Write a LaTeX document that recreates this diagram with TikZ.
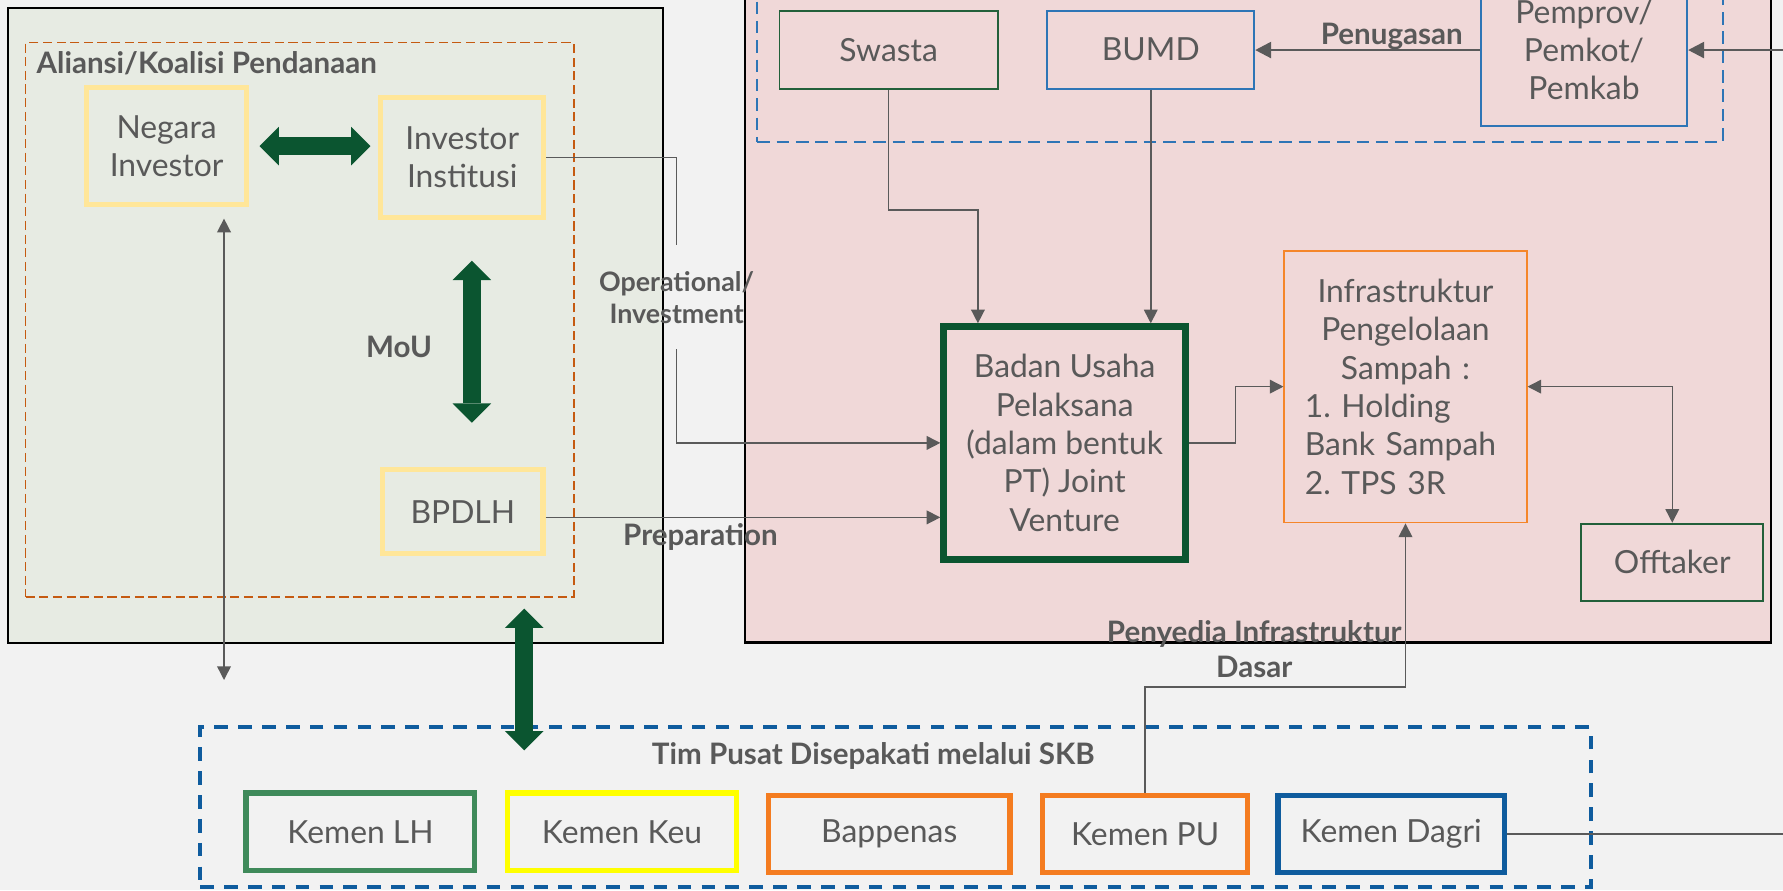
\documentclass[tikz,border=0pt]{standalone}
\usepackage{fontspec}
\setmainfont{Lato}
\usetikzlibrary{arrows.meta,calc}

\definecolor{latar}{HTML}{F2F2F2}
\definecolor{hijaumuda}{HTML}{E7EBE3}
\definecolor{merahmuda}{HTML}{F0D8D8}
\definecolor{teks}{HTML}{595959}
\definecolor{garis}{HTML}{5A5A5A}
\definecolor{kuningmuda}{HTML}{FFE699}
\definecolor{hijautua}{HTML}{0B5530}
\definecolor{hijau}{HTML}{22603A}
\definecolor{hijaulh}{HTML}{3F8A5A}
\definecolor{kuning}{HTML}{FFFF00}
\definecolor{oranye}{HTML}{F47C20}
\definecolor{oranyemuda}{HTML}{F5862A}
\definecolor{cokelat}{HTML}{C55A11}
\definecolor{biru}{HTML}{2E75B6}
\definecolor{birutua}{HTML}{0F5C9E}

\begin{document}
\begin{tikzpicture}[x=1pt, y=-1pt,
    panah/.tip={Triangle[width=12pt,length=12pt]},
    panahbesar/.tip={Triangle[width=14pt,length=14pt]},
    blokujung/.tip={Triangle[width=34pt,length=17pt,line width=0pt]},
    box/.style={rectangle, draw, align=center, text=teks, inner sep=0pt,
                font={\fontsize{28}{33.7}\selectfont\frenchspacing}},
    investor/.style={box, draw=kuningmuda, line width=4.5pt, minimum width=141pt},
    kemen/.style={box, line width=4.8pt, minimum height=68pt},
    wadah/.style={rectangle, inner sep=0pt},
    lbl/.style={text=teks, align=center, inner sep=0pt,
                font={\fontsize{26}{30}\selectfont\bfseries}},
    conn/.style={draw=garis, line width=1.3pt, -panah},
    dua/.style={draw=garis, line width=1.3pt, panah-panah},
    connthick/.style={draw=garis, line width=2.2pt, -panahbesar},
    blok/.style={draw=hijautua, line width=16pt, blokujung-blokujung}
]

\useasboundingbox (0,0) rectangle (1568,782.7);
\clip (0,0) rectangle (1568,782.7);
\fill[latar] (0,0) rectangle (1568,782.7);

\node[wadah, draw=black, fill=merahmuda, line width=2pt, minimum width=902.5pt, minimum height=605pt] (pelaksana) at (1106.25,262.5) {};
\node[wadah, draw=biru, dash pattern=on 11pt off 6pt, line width=2pt, minimum width=849pt, minimum height=164.6pt] (daerah) at (1090.5,42.3) {};
\node[wadah, draw=black, fill=hijaumuda, line width=1.8pt, minimum width=576pt, minimum height=558.5pt] (pendanaan) at (295,286) {};
\node[wadah, draw=cokelat, dash pattern=on 8pt off 4pt, line width=1.5pt, minimum width=482pt, minimum height=487.2pt] (koalisi) at (263.5,281.1) {};
\node[wadah, draw=birutua, dash pattern=on 12pt off 9pt, line width=3.5pt, minimum width=1223pt, minimum height=140.4pt] (timpusat) at (787.5,709.8) {};

\node[lbl, anchor=west] (judulkoalisi) at (32,56) {Aliansi/Koalisi Pendanaan};
\node[lbl] (judultim) at (768,665) {Tim Pusat Disepakati melalui SKB};

\node[investor, minimum height=103pt] (negara) at (146.5,128.5) {Negara\\Investor};
\node[investor, minimum width=143pt, minimum height=105pt] (institusi) at (406.5,138.5) {Investor\\Institusi};
\node[investor, minimum height=74pt] (bpdlh) at (407,450) {BPDLH};

\node[box, draw=hijau, line width=1.6pt, minimum width=192pt, minimum height=68.6pt] (swasta) at (781.5,43.7) {Swasta};
\node[box, draw=biru, line width=1.6pt, minimum width=182pt, minimum height=68.6pt] (bumd) at (1012,43.7) {BUMD};
\node[box, draw=biru, line width=1.6pt, minimum width=181.5pt, minimum height=134pt] (pemprov) at (1393,44) {Pemprov/\\Pemkot/\\Pemkab};
\node[box, draw=hijautua, line width=6pt, minimum width=212.7pt, minimum height=204.4pt] (bu) at (936.3,389.5) {Badan Usaha\\Pelaksana\\(dalam bentuk\\PT) Joint\\Venture};
\node[box, draw=oranyemuda, line width=1.6pt, minimum width=213pt, minimum height=239pt, text width=177pt, align=left] (infra) at (1236,340)
  {\centering Infrastruktur\\Pengelolaan\\Sampah :\par\raggedright 1. Holding\\Bank Sampah\\2. TPS 3R};
\node[box, draw=hijau, line width=1.6pt, minimum width=160pt, minimum height=68pt] (offtaker) at (1470.6,494.5) {Offtaker};

\foreach \nama/\x/\y/\w/\warna/\isi in {kemenlh/317/731.5/201/hijaulh/Kemen LH, kemenkeu/547/731.5/201/kuning/Kemen Keu,
    bappenas/782/733.5/212/oranye/Bappenas, kemenpu/1007/733.5/180/oranye/Kemen PU, kemendagri/1223.4/733.5/199/birutua/Kemen Dagri}{
  \node[kemen, draw=\warna, minimum width=\w pt] (\nama) at (\x,\y) {\isi};
}

\node[lbl] (mou) at (351,305) {MoU};
\node[lbl] (penugasan) at (1224,32) {Penugasan};
\node[lbl, font={\fontsize{23.6}{28}\selectfont\bfseries}] (operasional) at (595,261.5) {Operational/\\Investment};
\node[lbl] (persiapan) at (616,472) {Preparation};
\node[lbl, font={\fontsize{26}{31}\selectfont\bfseries}] (penyedia) at (1103,571) {Penyedia Infrastruktur\\Dasar};

\coordinate (opatas) at (595,215.5);
\coordinate (opbawah) at (595,307);
\coordinate (bawahkiri) at (197,598);

\draw[blok, shorten <=9pt, shorten >=7pt] (negara.east) -- (negara.east -| institusi.west);
\draw[blok, shorten <=36pt, shorten >=39pt] ([xshift=8.5pt]institusi.south) -- ([xshift=8.5pt]institusi.south |- bpdlh.north);
\draw[blok] ($(pendanaan.south)+(166,-31)$) -- ($(timpusat.north)+(-326.5,22)$);

\draw[dua] ($(bawahkiri |- negara.south)+(0,10)$) -- (bawahkiri);
\draw[draw=garis, line width=1.3pt] (institusi.east) -| (opatas);
\draw[conn] (opbawah) |- (bu.west);
\draw[conn] ([yshift=-5pt]bpdlh.east) -- ([yshift=-5pt]bpdlh.east -| bu.west);
\draw[conn] (swasta.south) -- ++(0,106) -| ([xshift=-76.3pt]bu.north);
\draw[conn] (bumd.south) -- (bumd.south |- bu.north);
\draw[conn] (bu.east) -- ++(41,0) |- (infra.west);
\draw[dua] (infra.east) -| (offtaker.north);
\draw[conn] (kemenpu.north) -- ++(0,-93) -| (infra.south);
\draw[connthick] (pemprov.west) -- (pemprov.west -| bumd.east);
\draw[connthick] (kemendagri.east) -- ++(340,0) |- (pemprov.east);

\end{tikzpicture}
\end{document}
